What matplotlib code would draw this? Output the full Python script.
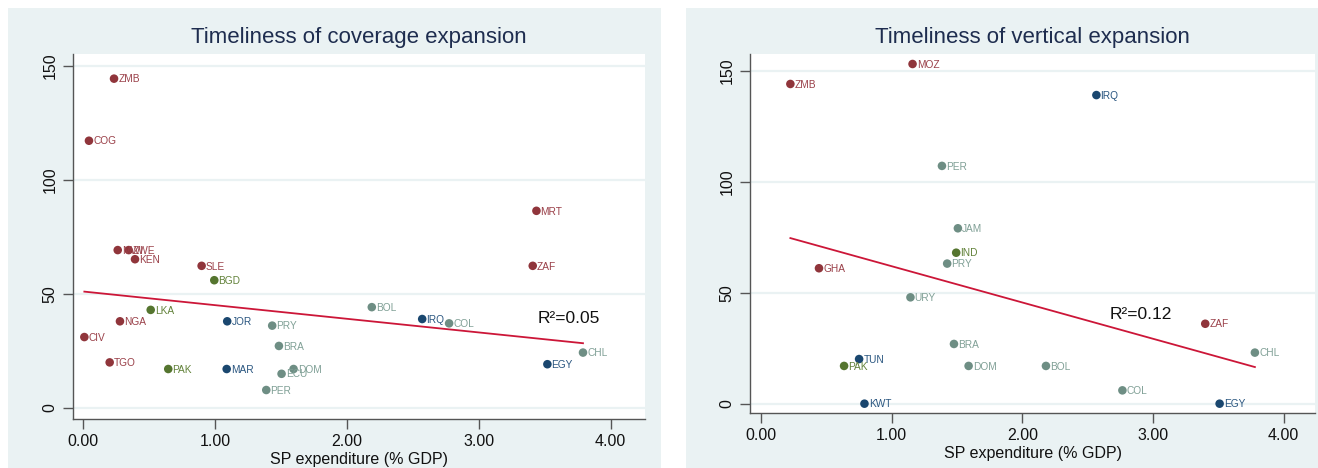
import matplotlib
matplotlib.use('Agg')
import matplotlib.pyplot as plt
import numpy as np
from matplotlib.patches import Rectangle

plt.rcParams['font.family'] = ['Liberation Sans', 'DejaVu Sans']

# Timeliness of coverage expansion
cov_codes = ['ZMB', 'COG', 'MWI', 'ZWE', 'KEN', 'SLE', 'BGD', 'LKA', 'NGA', 'JOR',
             'PRY', 'CIV', 'BRA', 'TGO', 'PAK', 'MAR', 'DOM', 'ECU', 'PER', 'BOL',
             'IRQ', 'COL', 'MRT', 'ZAF', 'CHL', 'EGY']
cov_spend = [0.235, 0.045, 0.263, 0.346, 0.394, 0.899, 0.995, 0.513, 0.280, 1.093,
             1.434, 0.010, 1.485, 0.202, 0.646, 1.089, 1.596, 1.505, 1.389, 2.189,
             2.571, 2.775, 3.437, 3.409, 3.790, 3.520]
cov_days = [144.3, 117.1, 69.2, 69.2, 65.2, 62.3, 56.0, 43.0, 38.0, 38.0,
            36.1, 31.1, 27.2, 20.0, 17.1, 17.1, 17.1, 15.0, 7.9, 44.2,
            39.0, 37.1, 86.4, 62.3, 24.3, 19.2]
cov_region = ['SSA', 'SSA', 'SSA', 'SSA', 'SSA', 'SSA', 'SAS', 'SAS', 'SSA', 'MNA',
              'LAC', 'SSA', 'LAC', 'SSA', 'SAS', 'MNA', 'LAC', 'LAC', 'LAC', 'LAC',
              'MNA', 'LAC', 'SSA', 'SSA', 'LAC', 'MNA']
cov_fit = (51.06, -5.98)  # intercept, slope of the fitted line
cov_r2 = 'R²=0.05'

# Timeliness of vertical expansion
vert_codes = ['MOZ', 'ZMB', 'PER', 'JAM', 'IRQ', 'IND', 'PRY', 'GHA', 'URY', 'BRA',
              'TUN', 'PAK', 'DOM', 'KWT', 'BOL', 'COL', 'ZAF', 'CHL', 'EGY']
vert_spend = [1.160, 0.225, 1.385, 1.507, 2.567, 1.494, 1.425, 0.444, 1.144, 1.477,
              0.751, 0.636, 1.589, 0.792, 2.181, 2.766, 3.400, 3.780, 3.510]
vert_days = [153.0, 144.0, 107.1, 79.0, 139.0, 68.0, 63.1, 61.0, 47.9, 26.9,
             20.1, 17.0, 17.0, 0.0, 17.0, 6.0, 36.0, 23.0, 0.0]
vert_region = ['SSA', 'SSA', 'LAC', 'LAC', 'MNA', 'SAS', 'LAC', 'SSA', 'LAC', 'LAC',
               'MNA', 'SAS', 'LAC', 'MNA', 'LAC', 'LAC', 'SSA', 'LAC', 'MNA']
vert_fit = (78.26, -16.34)
vert_r2 = 'R²=0.12'

marker_colors = {'SSA': '#90353B', 'MNA': '#1A476F', 'SAS': '#55752F', 'LAC': '#6E8E84'}
label_colors = {'SSA': '#9A4049', 'MNA': '#2A5680', 'SAS': '#62823A', 'LAC': '#80A096'}

BG = '#EAF2F3'
W, H = 1318, 468
fig = plt.figure(figsize=(W / 100, H / 100), dpi=100, facecolor='white')

# panel backgrounds (pixel boxes: x0, y0 from top, x1, y1)
for x0, y0, x1, y1 in [(8, 8, 661, 468), (686, 8, 1318, 468)]:
    fig.patches.append(Rectangle((x0 / W, 1 - y1 / H), (x1 - x0) / W, (y1 - y0) / H,
                                 transform=fig.transFigure, facecolor=BG,
                                 edgecolor='none', zorder=-10))


def px_axes(x0, y0, x1, y1):
    return fig.add_axes([x0 / W, 1 - y1 / H, (x1 - x0) / W, (y1 - y0) / H])


def draw_panel(ax, title, codes, spend, days, region, fit, r2, r2_pos, xlim, ylim):
    ax.set_facecolor('white')
    ax.set_xlim(*xlim)
    ax.set_ylim(*ylim)
    ax.set_yticks([0, 50, 100, 150])
    ax.set_xticks([0, 1, 2, 3, 4])
    ax.set_xticklabels(['0.00', '1.00', '2.00', '3.00', '4.00'])
    for lbl in ax.get_yticklabels():
        lbl.set_rotation(90)
        lbl.set_va('center')
    ax.grid(axis='y', color=BG, linewidth=1.6, zorder=0)
    ax.set_axisbelow(True)
    for side in ['top', 'right']:
        ax.spines[side].set_visible(False)
    for side in ['left', 'bottom']:
        ax.spines[side].set_color('#555555')
        ax.spines[side].set_linewidth(1.0)
    ax.tick_params(direction='out', length=7, width=1.0, color='#555555',
                   labelsize=11.5, labelcolor='#111111', pad=4)

    spend = np.array(spend)
    days = np.array(days)
    cols = [marker_colors[r] for r in region]
    ax.scatter(spend, days, s=38, c=cols, edgecolors='none', zorder=3, clip_on=False)
    for code, x, y, r in zip(codes, spend, days, region):
        ax.annotate(code, (x, y), xytext=(3, -0.5), textcoords='offset points',
                    fontsize=7.3, color=label_colors[r], va='center', ha='left', zorder=4)

    # fitted line across the observed range
    intercept, slope = fit
    xs = np.array([spend.min(), spend.max()])
    ax.plot(xs, intercept + slope * xs, color='#CC1638', linewidth=1.3, zorder=2)
    ax.text(r2_pos[0], r2_pos[1], r2, fontsize=12.5, color='#111111',
            ha='center', va='center')

    ax.set_title(title, fontsize=16, color='#1E2D4F', pad=8)
    ax.set_xlabel('SP expenditure (% GDP)', fontsize=11.5, color='#111111', labelpad=2)


ax1 = px_axes(73, 54, 645, 419)
draw_panel(ax1, 'Timeliness of coverage expansion', cov_codes, cov_spend, cov_days,
           cov_region, cov_fit, cov_r2, (3.68, 39.3), (-0.076, 4.26), (-4.8, 155.1))

ax2 = px_axes(750, 54, 1315, 413)
draw_panel(ax2, 'Timeliness of vertical expansion', vert_codes, vert_spend, vert_days,
           vert_region, vert_fit, vert_r2, (2.91, 40.0), (-0.084, 4.24), (-4.2, 157.5))

fig.savefig('out.png', dpi=100, facecolor='white')
